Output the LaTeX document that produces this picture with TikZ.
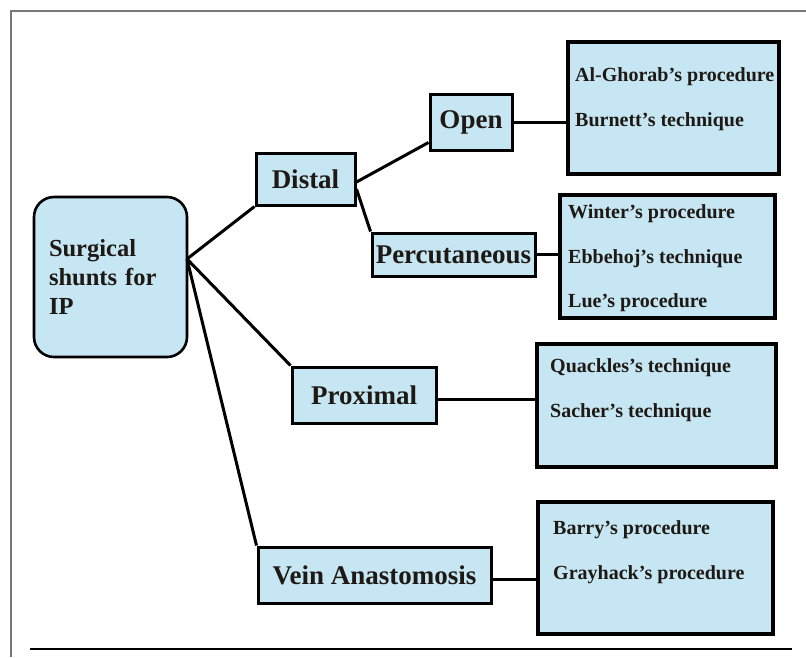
\documentclass[tikz,border=0pt]{standalone}
\usepackage{fontspec}
\setmainfont{Liberation Serif}
\usetikzlibrary{positioning}
\definecolor{paleblue}{RGB}{197, 230, 242}
\definecolor{framegray}{RGB}{120, 120, 120}
\definecolor{inkdark}{RGB}{30, 25, 20}

\tikzset{
    rootbox/.style={draw=black, line width=2.6pt, fill=paleblue, rounded corners=20pt,
                    text=inkdark, font=\fontsize{24.5}{29}\selectfont\bfseries,
                    text width=123pt, align=left, inner sep=15pt, minimum height=160pt},
    branch/.style={draw=black, line width=3pt, fill=paleblue, text=inkdark,
                   font=\fontsize{27}{32}\selectfont\bfseries, inner sep=0pt},
    leafbox/.style={draw=black, line width=3.2pt, fill=paleblue, inner sep=0pt},
    leafitem/.style={anchor=west, inner sep=0pt, text=inkdark,
                     font=\fontsize{20}{24}\selectfont\bfseries},
    link/.style={black, line width=3pt},
}

\begin{document}
\begin{tikzpicture}[x=1pt, y=-1pt]
            \useasboundingbox (0, 0) rectangle (806, 657);
            % Page frame
            \draw[framegray, line width=1.5pt]                        (10, 11) -- (806, 11);
            \draw[framegray, line width=1.5pt]                        (11, 11) -- (11, 657);
            \draw[black, line width=1.2pt]                            (30, 649) -- (792, 649);
            % Root
            \node[rootbox]                                   (root)     at (110.5, 277) {Surgical shunts for IP};
            \coordinate                                      (hub)      at (187, 259);
            % Branches
            \node[branch, minimum width=99pt,  minimum height=52pt] (distal)   at (305.5, 179)   {Distal};
            \node[branch, minimum width=82pt,  minimum height=56pt] (open)     at (471, 122)     {Open};
            \node[branch, minimum width=163pt, minimum height=43pt] (percut)   at (453.5, 254.5) {Percutaneous};
            \node[branch, minimum width=144pt, minimum height=56pt] (proximal) at (364, 395)     {Proximal};
            \node[branch, minimum width=233pt, minimum height=56pt] (vein)     at (374.5, 575)   {Vein Anastomosis};
            % Leaf boxes
            \node[leafbox, minimum width=211pt, minimum height=132pt] (ghorab)   at (673.5, 108)   {};
            \node[leafbox, minimum width=215pt, minimum height=123pt] (winter)   at (667.5, 256.5) {};
            \node[leafbox, minimum width=239pt, minimum height=123pt] (quackles) at (656.5, 405.5) {};
            \node[leafbox, minimum width=235pt, minimum height=132pt] (barry)    at (655.5, 568)   {};
            % Leaf items
            \node[leafitem] (ghorabA)   at (575, 77)  {Al-Ghorab’s procedure};
            \node[leafitem] (ghorabB)   at (575, 122) {Burnett’s technique};
            \node[leafitem] (winterA)   at (568, 214) {Winter’s procedure};
            \node[leafitem] (winterB)   at (568, 259) {Ebbehoj’s technique};
            \node[leafitem] (winterC)   at (568, 303) {Lue’s procedure};
            \node[leafitem] (quacklesA) at (550, 368) {Quackles’s technique};
            \node[leafitem] (quacklesB) at (550, 413) {Sacher’s technique};
            \node[leafitem] (barryA)    at (553, 530) {Barry’s procedure};
            \node[leafitem] (barryB)    at (553, 575) {Grayhack’s procedure};
            % Connectors
            \draw[link] (hub) -- (distal.south west);
            \draw[link] (hub) -- (proximal.north west);
            \draw[link] (hub) -- (vein.north west);
            \draw[link] ([yshift=-3pt]distal.east)  -- ([yshift=9pt]open.south west);
            \draw[link] ([yshift=-10pt]distal.east) -- (percut.north west);
            \draw[link] (open.east)     -- (open.east -| ghorab.west);
            \draw[link] (percut.east)   -- (percut.east -| winter.west);
            \draw[link] ([yshift=-4pt]proximal.east) -- ([yshift=-4pt]proximal.east -| quackles.west);
            \draw[link] ([yshift=-4pt]vein.east)     -- ([yshift=-4pt]vein.east -| barry.west);
        \end{tikzpicture}
\end{document}
